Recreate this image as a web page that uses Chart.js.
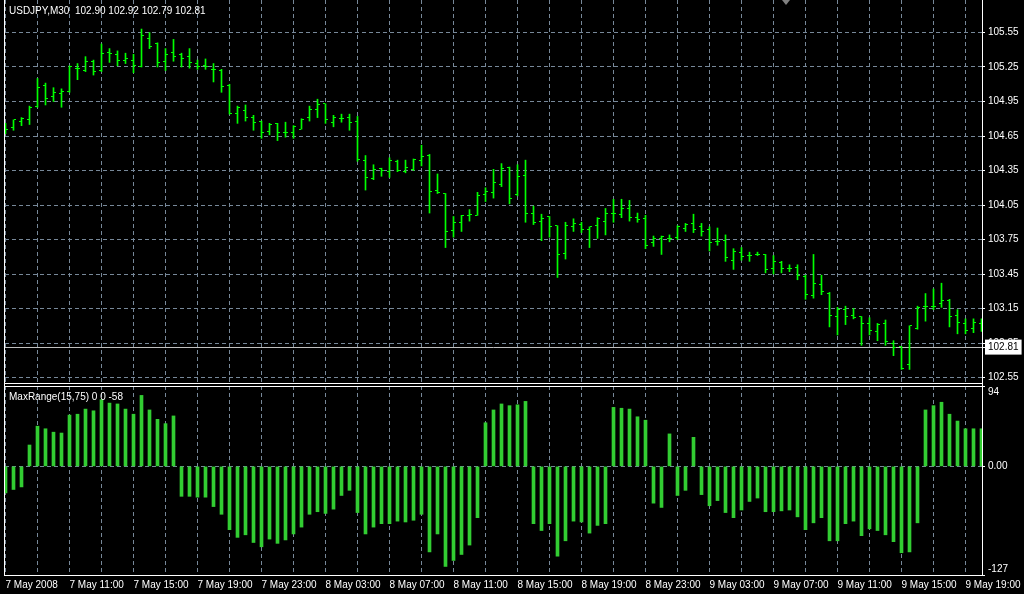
<!DOCTYPE html>
<html>
<head>
<meta charset="utf-8">
<script src="https://cdn.jsdelivr.net/npm/chart.js@4.4.0/dist/chart.umd.min.js"></script>
<style>
  body { margin: 0; background: #000; width: 1024px; height: 594px; overflow: hidden; position: relative; font-family: 'Liberation Sans', Arial, sans-serif; }
  .pane { position: absolute; left: 0; width: 1024px; }
  .line { position: absolute; background: #fff; }
  .label { position: absolute; color: #fff; font-size: 10px; white-space: pre; }
</style>
</head>
<body>
<div class="pane" style="top:0;height:384px"><canvas id="priceChart"></canvas></div>
<div class="pane" style="top:384px;height:210px"><canvas id="rangeChart"></canvas></div>
<div class="line" style="left:4px;top:0;width:1px;height:576px"></div>
<div class="line" style="left:4px;top:386px;width:979px;height:1px"></div>
<div class="line" style="left:982px;top:383px;width:1px;height:4px"></div>
<div style="position:absolute;left:782px;top:0;width:0;height:0;border-left:4px solid transparent;border-right:4px solid transparent;border-top:5px solid #808080"></div>
<div class="label" style="left:9px;top:5px">USDJPY,M30  102.90 102.92 102.79 102.81</div>
<div class="label" style="left:9px;top:391px">MaxRange(15,75) 0 0 -58</div>
<script>
// USDJPY M30 bars, 7 May 07:00 .. 9 May 20:00
const opens = [104.71, 104.72, 104.78, 104.79, 104.91, 105.09, 104.99, 105.02, 105.04, 105.24,
  105.22, 105.30, 105.22, 105.38, 105.36, 105.31, 105.31, 105.25, 105.50, 105.45,
  105.30, 105.38, 105.36, 105.34, 105.28, 105.26, 105.23, 105.22, 105.09, 104.85,
  104.87, 104.81, 104.78, 104.69, 104.76, 104.68, 104.68, 104.71, 104.81, 104.88,
  104.93, 104.77, 104.80, 104.81, 104.78, 104.44, 104.28, 104.37, 104.34, 104.43,
  104.34, 104.36, 104.44, 104.48, 104.18, 104.15, 103.83, 103.90, 103.96, 103.96,
  104.14, 104.16, 104.23, 104.38, 104.14, 104.31, 103.98, 103.91, 103.95, 103.87,
  103.63, 103.86, 103.88, 103.84, 103.87, 103.91, 103.98, 103.97, 104.02, 103.94,
  103.93, 103.72, 103.76, 103.76, 103.77, 103.85, 103.89, 103.86, 103.84, 103.73,
  103.74, 103.57, 103.64, 103.61, 103.62, 103.62, 103.50, 103.55, 103.50, 103.51,
  103.43, 103.26, 103.36, 103.28, 103.08, 103.14, 103.09, 103.08, 103.02, 102.95,
  103.02, 102.85, 102.82, 102.66, 102.98, 103.17, 103.17, 103.19, 103.22, 103.09,
  103.02, 102.98, 103.02];
const highs = [104.76, 104.79, 104.81, 104.91, 105.15, 105.11, 105.07, 105.06, 105.26, 105.28,
  105.34, 105.31, 105.45, 105.41, 105.39, 105.37, 105.36, 105.58, 105.55, 105.46,
  105.41, 105.49, 105.37, 105.41, 105.31, 105.32, 105.28, 105.23, 105.10, 104.91,
  104.92, 104.83, 104.78, 104.76, 104.76, 104.77, 104.74, 104.80, 104.91, 104.97,
  104.93, 104.83, 104.84, 104.84, 104.82, 104.48, 104.40, 104.37, 104.46, 104.44,
  104.44, 104.45, 104.57, 104.49, 104.32, 104.15, 103.95, 103.96, 104.01, 104.16,
  104.20, 104.36, 104.41, 104.38, 104.40, 104.44, 104.04, 103.97, 103.95, 103.87,
  103.90, 103.93, 103.90, 103.86, 103.94, 104.02, 104.10, 104.10, 104.09, 103.98,
  103.96, 103.78, 103.78, 103.79, 103.87, 103.89, 103.97, 103.89, 103.86, 103.85,
  103.79, 103.67, 103.68, 103.64, 103.64, 103.62, 103.61, 103.56, 103.53, 103.53,
  103.44, 103.62, 103.44, 103.29, 103.16, 103.17, 103.15, 103.08, 103.07, 103.02,
  103.05, 102.87, 102.82, 103.00, 103.17, 103.28, 103.32, 103.37, 103.23, 103.14,
  103.06, 103.06, 103.06];
const lows = [104.67, 104.70, 104.74, 104.75, 104.90, 104.92, 104.95, 104.90, 105.03, 105.14,
  105.21, 105.18, 105.21, 105.29, 105.26, 105.28, 105.20, 105.25, 105.41, 105.25,
  105.22, 105.30, 105.25, 105.24, 105.23, 105.23, 105.12, 105.03, 104.84, 104.76,
  104.78, 104.70, 104.63, 104.66, 104.61, 104.64, 104.63, 104.71, 104.78, 104.81,
  104.76, 104.73, 104.77, 104.70, 104.43, 104.18, 104.27, 104.30, 104.29, 104.34,
  104.33, 104.35, 104.39, 103.98, 104.15, 103.68, 103.77, 103.82, 103.91, 103.96,
  104.08, 104.11, 104.21, 104.06, 104.13, 103.90, 103.88, 103.74, 103.77, 103.42,
  103.58, 103.82, 103.81, 103.68, 103.76, 103.79, 103.90, 103.94, 103.91, 103.90,
  103.67, 103.69, 103.62, 103.73, 103.75, 103.82, 103.81, 103.78, 103.65, 103.70,
  103.56, 103.49, 103.57, 103.56, 103.61, 103.46, 103.45, 103.46, 103.47, 103.40,
  103.23, 103.24, 103.27, 102.99, 102.92, 103.01, 103.06, 102.83, 102.92, 102.87,
  102.83, 102.74, 102.62, 102.62, 102.97, 103.04, 103.14, 103.16, 102.99, 102.93,
  102.93, 102.94, 102.95];
const closes = [104.71, 104.79, 104.80, 104.90, 105.07, 104.98, 105.03, 105.04, 105.25, 105.24,
  105.30, 105.21, 105.37, 105.37, 105.31, 105.32, 105.26, 105.52, 105.43, 105.29,
  105.36, 105.34, 105.32, 105.29, 105.25, 105.25, 105.23, 105.08, 104.85, 104.90,
  104.81, 104.77, 104.68, 104.75, 104.68, 104.68, 104.73, 104.79, 104.88, 104.92,
  104.79, 104.81, 104.80, 104.77, 104.45, 104.29, 104.36, 104.35, 104.44, 104.35,
  104.38, 104.45, 104.47, 104.17, 104.16, 103.82, 103.90, 103.96, 103.97, 104.13,
  104.17, 104.25, 104.37, 104.11, 104.30, 103.98, 103.90, 103.93, 103.86, 103.62,
  103.87, 103.89, 103.84, 103.86, 103.93, 103.98, 103.98, 104.02, 103.94, 103.92,
  103.70, 103.76, 103.78, 103.76, 103.86, 103.88, 103.84, 103.82, 103.72, 103.73,
  103.59, 103.65, 103.60, 103.61, 103.62, 103.49, 103.56, 103.50, 103.50, 103.44,
  103.27, 103.37, 103.30, 103.09, 103.14, 103.08, 103.07, 103.02, 102.96, 103.01,
  102.86, 102.81, 102.63, 103.00, 103.16, 103.17, 103.17, 103.22, 103.08, 103.03,
  102.96, 103.03, 103.03];

// MaxRange(15,75) histogram
const maxRange = [-31, -27, -24, 25, 47, 44, 40, 39, 60, 61,
  67, 65, 78, 74, 73, 67, 61, 83, 66, 55,
  50, 59, -35, -35, -36, -36, -47, -56, -74, -83,
  -80, -89, -94, -85, -90, -86, -79, -71, -56, -53,
  -55, -50, -34, -28, -54, -79, -71, -67, -67, -64,
  -65, -63, -56, -100, -79, -117, -110, -103, -92, -60,
  51, 66, 73, 71, 72, 76, -67, -75, -67, -105,
  -87, -64, -65, -78, -69, -67, 69, 68, 67, 58,
  54, -43, -48, 38, -34, -28, 34, -33, -46, -40,
  -54, -60, -51, -41, -37, -53, -53, -52, -51, -59,
  -74, -66, -60, -87, -87, -67, -64, -81, -73, -75,
  -80, -88, -101, -100, -66, 66, 71, 75, 61, 53,
  44, 44, 44];

// one label every 8 bars
const timeLabels = ['7 May 2008', '7 May 11:00', '7 May 15:00', '7 May 19:00', '7 May 23:00',
  '8 May 03:00', '8 May 07:00', '8 May 11:00', '8 May 15:00', '8 May 19:00', '8 May 23:00',
  '9 May 03:00', '9 May 07:00', '9 May 11:00', '9 May 15:00', '9 May 19:00'];
const priceTicks = [102.55, 102.85, 103.15, 103.45, 103.75, 104.05, 104.35, 104.65, 104.95, 105.25, 105.55];
const lastPrice = 102.81;
const rangeTicks = [94, 0, -127];

Chart.defaults.font.family = "'Liberation Sans', Arial, sans-serif";
Chart.defaults.font.size = 10;
Chart.defaults.color = '#ffffff';

const gridColor = '#778899';
const dash = [4, 3];
const xMin = -0.0625, xMax = 122.0625;
const gridBars = [];
for (let b = 0; b <= 120; b += 4) gridBars.push(b);

function makeTick(side) {
    const c = document.createElement('canvas');
    c.width = 5; c.height = 1;
    const g = c.getContext('2d');
    g.fillStyle = '#00ff00';
    g.fillRect(side === 'open' ? 0 : 3, 0, 2, 1);
    return c;
}
const openTick = makeTick('open');
const closeTick = makeTick('close');

const crisp = {
    id: 'crisp',
    beforeDatasetsDraw(chart) { chart.ctx.imageSmoothingEnabled = false; }
};

function timeAxis(showLabels) {
    return {
        type: 'linear', min: xMin, max: xMax, offset: false,
        afterBuildTicks: s => { s.ticks = gridBars.map(v => ({ value: v })); },
        afterFit: s => { s.paddingLeft = 0; s.paddingRight = 0; s.height = showLabels ? 19 : 0; },
        grid: { color: gridColor, drawTicks: false, offset: false },
        border: { display: true, color: '#ffffff', dash: dash },
        ticks: {
            display: showLabels, autoSkip: false, maxRotation: 0, align: 'start', padding: 4,
            callback: v => (v % 8 === 0 ? timeLabels[v / 8] : '')
        }
    };
}

// fixed-width right scale, no extra label padding
const fitRight = s => { s.width = 42; s.paddingTop = 0; s.paddingBottom = 0; };
const isLast = c => c.tick && c.tick.value === lastPrice;

new Chart(document.getElementById('priceChart'), {
    type: 'bar',
    data: {
        datasets: [{
            data: highs.map((h, i) => ({ x: i, y: [lows[i], h] })),
            backgroundColor: '#00ff00',
            barThickness: 1,
            borderWidth: 0
        }, {
            type: 'scatter',
            data: opens.map((o, i) => ({ x: i, y: o })),
            pointStyle: openTick,
            pointRadius: 2
        }, {
            type: 'scatter',
            data: closes.map((c, i) => ({ x: i, y: c })),
            pointStyle: closeTick,
            pointRadius: 2
        }]
    },
    options: {
        responsive: true,
        maintainAspectRatio: false,
        animation: false,
        events: [],
        layout: { autoPadding: false, padding: { left: 5, top: 0, right: 0, bottom: 1 } },
        scales: {
            x: timeAxis(false),
            y: {
                position: 'right',
                min: 102.5022, max: 105.8326,
                afterBuildTicks: s => { s.ticks = priceTicks.concat([lastPrice]).map(v => ({ value: v })); },
                afterFit: fitRight,
                grid: {
                    color: c => (isLast(c) ? '#c0c0c0' : gridColor),
                    tickColor: '#ffffff', tickLength: 3, tickBorderDash: []
                },
                border: { color: '#ffffff', dash: c => (isLast(c) ? [] : dash) },
                ticks: {
                    autoSkip: false,
                    padding: 3,
                    color: c => (isLast(c) ? '#000000' : '#ffffff'),
                    showLabelBackdrop: c => isLast(c),
                    backdropColor: '#ffffff',
                    backdropPadding: { top: 2, bottom: 1, left: 3, right: 3 },
                    callback: v => v.toFixed(2)
                }
            }
        },
        plugins: { legend: { display: false }, tooltip: { enabled: false } }
    },
    plugins: [crisp]
});

new Chart(document.getElementById('rangeChart'), {
    type: 'bar',
    data: {
        datasets: [{
            data: maxRange.map((v, i) => ({ x: i, y: v })),
            backgroundColor: '#32cd32',
            barThickness: 3,
            borderWidth: 0
        }]
    },
    options: {
        responsive: true,
        maintainAspectRatio: false,
        animation: false,
        events: [],
        layout: { autoPadding: false, padding: { left: 5, top: 2, right: 0, bottom: 0 } },
        scales: {
            x: timeAxis(true),
            y: {
                position: 'right',
                min: -127, max: 94,
                afterBuildTicks: s => { s.ticks = rangeTicks.map(v => ({ value: v })); },
                afterFit: fitRight,
                grid: {
                    color: c => (c.tick && c.tick.value === 0 ? gridColor : 'rgba(0,0,0,0)'),
                    tickColor: '#ffffff', tickLength: 3, tickBorderDash: []
                },
                border: { color: '#ffffff', dash: dash },
                ticks: {
                    autoSkip: false,
                    padding: 3,
                    callback: v => (v === 0 ? '0.00' : (v > 0 ? ['', String(v)] : [String(v), '']))
                }
            }
        },
        plugins: { legend: { display: false }, tooltip: { enabled: false } }
    }
});
</script>
</body>
</html>
